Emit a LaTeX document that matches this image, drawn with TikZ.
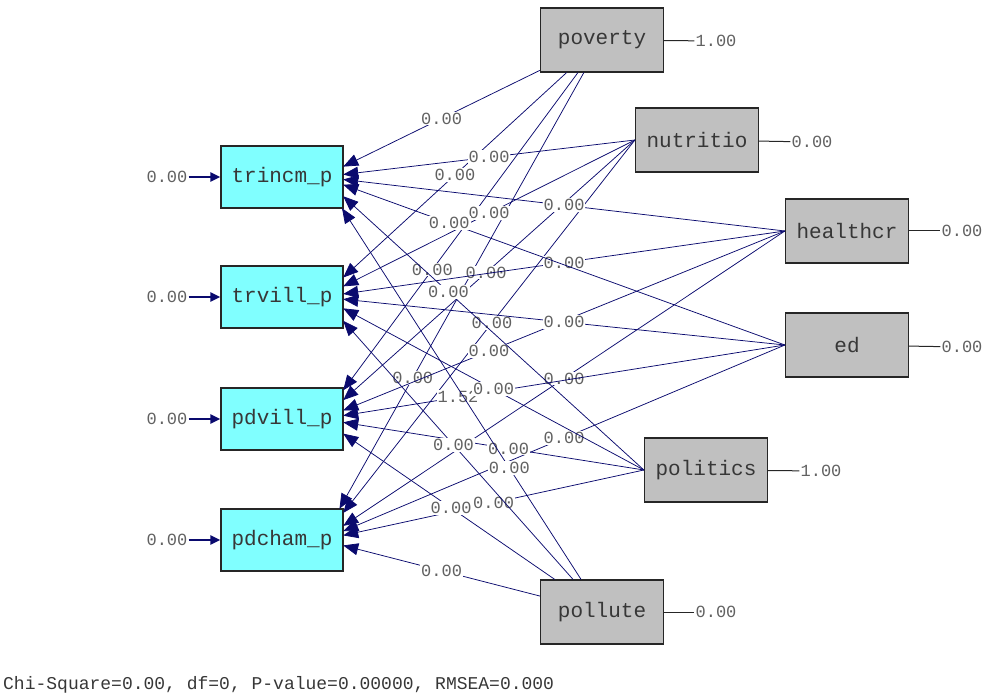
\documentclass[tikz,border=0pt]{standalone}
\usepackage{fontspec}
\setmonofont{Liberation Mono}
\usetikzlibrary{arrows.meta}
\definecolor{lisnavy}{RGB}{10,10,110}
\definecolor{liscyan}{RGB}{128,255,255}
\definecolor{lisgray}{RGB}{192,192,192}
\definecolor{listext}{RGB}{55,55,55}

\tikzset{
	ybox/.style={draw=black!85, line width=1.2pt, fill=liscyan, minimum width=122pt, minimum height=62pt, inner sep=0pt, font=\ttfamily\fontsize{21}{21}\selectfont, text=listext},
	xbox/.style={ybox, fill=lisgray, minimum width=123pt, minimum height=64pt},
	endzone/.style={minimum width=42pt, minimum height=62pt, inner sep=0pt},
	val/.style={font=\ttfamily\fontsize{17}{17}\selectfont, text=black!62, inner sep=1pt},
	coef/.style={val, fill=white, pos=0.5},
	gam/.style={->, draw=lisnavy, line width=0.75pt},
	err/.style={->, draw=lisnavy, line width=2.4pt},
	tie/.style={draw=black!85, line width=1pt}
}

\begin{document}
\begin{tikzpicture}[x=1pt, y=-1pt, >={Triangle[length=15pt,width=12pt]}]
	\useasboundingbox (0,0) rectangle (985,700);

	% eta side
	\node[ybox] (trincm) at (282,177) {trincm\_p};
	\node[ybox] (trvill) at (282,297) {trvill\_p};
	\node[ybox] (pdvill) at (282,419) {pdvill\_p};
	\node[ybox] (pdcham) at (282,540) {pdcham\_p};
	\node[endzone] (trincmE) at (322,177) {};
	\node[endzone] (trvillE) at (322,297) {};
	\node[endzone] (pdvillE) at (322,419) {};
	\node[endzone] (pdchamE) at (322,540) {};

	% ksi side
	\node[xbox] (poverty) at (602,40) {poverty};
	\node[xbox] (nutritio) at (697,140) {nutritio};
	\node[xbox] (healthcr) at (847,231) {healthcr};
	\node[xbox] (ed) at (847,345) {ed};
	\node[xbox] (politics) at (706,470) {politics};
	\node[xbox] (pollute) at (602,612) {pollute};

	% errors
	\node[val] (trincmD) at (167,177) {0.00};
	\node[val] (trvillD) at (167,297) {0.00};
	\node[val] (pdvillD) at (167,419) {0.00};
	\node[val] (pdchamD) at (167,540) {0.00};
	\draw[err, >={Triangle[length=10pt,width=9pt]}] (trincmD) -- (trincm);
	\draw[err, >={Triangle[length=10pt,width=9pt]}] (trvillD) -- (trvill);
	\draw[err, >={Triangle[length=10pt,width=9pt]}] (pdvillD) -- (pdvill);
	\draw[err, >={Triangle[length=10pt,width=9pt]}] (pdchamD) -- (pdcham);

	\node[val] (povertyV) at (716,41) {1.00};
	\node[val] (nutritioV) at (812,142) {0.00};
	\node[val] (healthcrV) at (962,231) {0.00};
	\node[val] (edV) at (962,347) {0.00};
	\node[val] (politicsV) at (821,471) {1.00};
	\node[val] (polluteV) at (716,612) {0.00};
	\draw[tie] (poverty) -- (povertyV);
	\draw[tie] (nutritio) -- (nutritioV);
	\draw[tie] (healthcr) -- (healthcrV);
	\draw[tie] (ed) -- (edV);
	\draw[tie] (politics) -- (politicsV);
	\draw[tie] (pollute) -- (polluteV);

	% paths
	\draw[gam] (poverty) -- (trincmE) node[coef]{0.00};
	\draw[gam] (poverty) -- (trvillE) node[coef]{0.00};
	\draw[gam] (poverty) -- (pdvillE) node[coef,pos=0.62]{0.00};
	\draw[gam] (poverty) -- (pdchamE) node[coef,pos=0.7]{0.00};
	\draw[gam] (nutritio.west) -- (trincmE) node[coef]{0.00};
	\draw[gam] (nutritio.west) -- (trvillE) node[coef]{0.00};
	\draw[gam] (nutritio.west) -- (pdvillE) node[coef,pos=0.51]{0.00};
	\draw[gam] (nutritio.west) -- (pdchamE) node[coef,pos=0.49]{0.00};
	\draw[gam] (healthcr.west) -- (trincmE) node[coef]{0.00};
	\draw[gam] (healthcr.west) -- (trvillE) node[coef]{0.00};
	\draw[gam] (healthcr.west) -- (pdvillE) node[coef,pos=0.67]{0.00};
	\draw[gam] (healthcr.west) -- (pdchamE) node[coef]{0.00};
	\draw[gam] (ed.west) -- (trincmE) node[coef,pos=0.76]{0.00};
	\draw[gam] (ed.west) -- (trvillE) node[coef]{0.00};
	\draw[gam] (ed.west) -- (pdvillE) node[coef,pos=0.74]{1.52};
	\draw[gam] (ed.west) -- (pdchamE) node[coef]{0.00};
	\draw[gam] (politics.west) -- (trincmE) node[coef,pos=0.65]{0.00};
	\draw[gam] (politics.west) -- (trvillE) node[coef]{0.00};
	\draw[gam] (politics.west) -- (pdvillE) node[coef,pos=0.45]{0.00};
	\draw[gam] (politics.west) -- (pdchamE) node[coef]{0.00};
	\draw[gam] (pollute) -- (trincmE) node[coef,pos=0.3]{0.00};
	\draw[gam] (pollute) -- (trvillE) node[coef,pos=0.52]{0.00};
	\draw[gam] (pollute) -- (pdvillE) node[coef,pos=0.49]{0.00};
	\draw[gam] (pollute) -- (pdchamE) node[coef]{0.00};

	\node[anchor=west, inner sep=0pt, font=\ttfamily\fontsize{18}{18}\selectfont, text=listext] (fit) at (3,685) {Chi-Square=0.00, df=0, P-value=0.00000, RMSEA=0.000};
\end{tikzpicture}
\end{document}
